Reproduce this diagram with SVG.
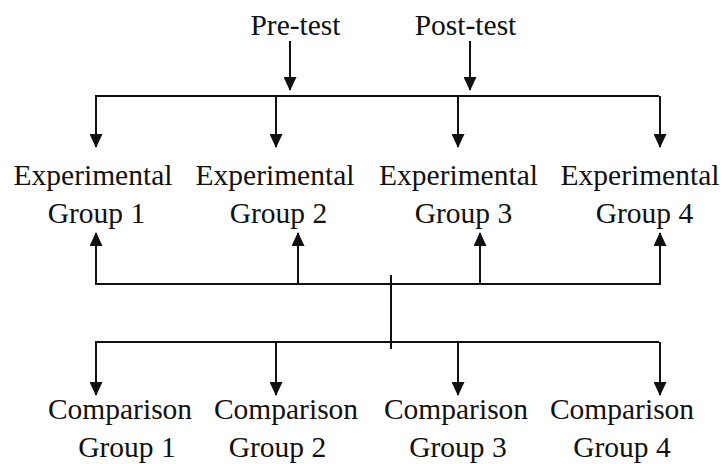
<svg xmlns="http://www.w3.org/2000/svg" width="722" height="464" viewBox="0 0 722 464" font-family="'Liberation Serif', 'Times New Roman', serif">
<defs>
<style>
.t{font-size:29.5px;fill:#111;text-anchor:middle}
.c line{stroke:#111;stroke-width:2;fill:none}
.a{marker-end:url(#ah)}
</style>
<marker id="ah" markerUnits="userSpaceOnUse" markerWidth="14" markerHeight="13" refX="13" refY="6.5" orient="auto" viewBox="0 0 14 13">
<path d="M0,0 L14,6.5 L0,13 z" fill="#111"/>
</marker>
</defs>
<rect width="722" height="464" fill="#fff"/>
<g id="pretest"><text class="t" x="295.5" y="35">Pre-test</text></g>
<g id="posttest"><text class="t" x="465.5" y="35">Post-test</text></g>
<g id="exp1"><text class="t" x="93" y="185">Experimental</text><text class="t" x="96.5" y="223">Group 1</text></g>
<g id="exp2"><text class="t" x="275" y="185">Experimental</text><text class="t" x="278.5" y="223">Group 2</text></g>
<g id="exp3"><text class="t" x="458.5" y="185">Experimental</text><text class="t" x="463.5" y="223">Group 3</text></g>
<g id="exp4"><text class="t" x="640" y="185">Experimental</text><text class="t" x="644.5" y="223">Group 4</text></g>
<g id="cmp1"><text class="t" x="120" y="419">Comparison</text><text class="t" x="127" y="457">Group 1</text></g>
<g id="cmp2"><text class="t" x="286" y="419">Comparison</text><text class="t" x="277.5" y="457">Group 2</text></g>
<g id="cmp3"><text class="t" x="456" y="419">Comparison</text><text class="t" x="458" y="457">Group 3</text></g>
<g id="cmp4"><text class="t" x="622" y="419">Comparison</text><text class="t" x="622" y="457">Group 4</text></g>
<g id="connectors" class="c">
<line class="a" x1="290" y1="41" x2="290" y2="90"/>
<line class="a" x1="470" y1="41" x2="470" y2="90"/>
<line x1="95" y1="96" x2="659" y2="96"/>
<line class="a" x1="96" y1="95" x2="96" y2="147"/>
<line class="a" x1="276" y1="96" x2="276" y2="147"/>
<line class="a" x1="458" y1="96" x2="458" y2="147"/>
<line class="a" x1="660" y1="96" x2="660" y2="147"/>
<line x1="95" y1="284" x2="661" y2="284"/>
<line class="a" x1="96" y1="285" x2="96" y2="233"/>
<line class="a" x1="298" y1="284" x2="298" y2="233"/>
<line class="a" x1="480" y1="284" x2="480" y2="233"/>
<line class="a" x1="660" y1="285" x2="660" y2="233"/>
<line x1="391" y1="275" x2="391" y2="349"/>
<line x1="95" y1="342" x2="659" y2="342"/>
<line class="a" x1="96" y1="341" x2="96" y2="395"/>
<line class="a" x1="276" y1="342" x2="276" y2="395"/>
<line class="a" x1="458" y1="342" x2="458" y2="395"/>
<line class="a" x1="660" y1="342" x2="660" y2="395"/>
</g>
</svg>
